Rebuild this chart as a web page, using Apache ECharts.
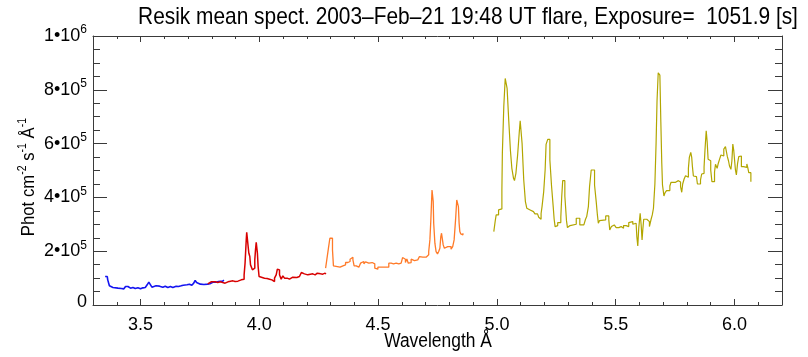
<!DOCTYPE html>
<html>
<head>
<meta charset="utf-8">
<script src="https://cdn.jsdelivr.net/npm/echarts@6/dist/echarts.min.js"></script>
<style>
html,body{margin:0;padding:0;background:#fff;}
#chart{width:808px;height:357px;}
</style>
</head>
<body>
<div id="chart"></div>
<script>
// ---- Data (wavelength in Å, flux in phot cm^-2 s^-1 Å^-1) ----
const blueWave = [3.351,3.360,3.362,3.369,3.376,3.384,3.405,3.412,3.419,3.430,3.437,3.447,3.458,3.468,3.478,3.489,3.500,3.510,3.520,3.528,3.535,3.542,3.548,3.556,3.565,3.572,3.580,3.587,3.594,3.604,3.615,3.626,3.636,3.650,3.660,3.671,3.680,3.688,3.696,3.706,3.716,3.724,3.730,3.736,3.744,3.752,3.760,3.767,3.774,3.783,3.792,3.800,3.808,3.818,3.828,3.836,3.846,3.851];
const blueFlux = [105900,108400,93500,71300,65100,62600,58900,61400,60100,65100,68800,62600,65100,61400,63800,60100,63800,65100,68800,75000,84900,75000,66300,71300,67500,70000,68800,66300,70000,65100,68800,65100,70000,68800,71300,73700,71300,75000,77500,73700,71300,81200,91100,83600,77500,73700,76200,72500,77500,78700,83600,86100,84900,87300,86100,88600,92300,91100];

const redWave = [3.783,3.790,3.797,3.804,3.814,3.825,3.836,3.846,3.856,3.868,3.879,3.889,3.898,3.910,3.918,3.924,3.931,3.936,3.940,3.945,3.947,3.953,3.956,3.960,3.963,3.967,3.971,3.977,3.981,3.984,3.987,3.992,3.995,3.999,4.004,4.022,4.033,4.043,4.053,4.057,4.064,4.071,4.076,4.081,4.085,4.092,4.099,4.106,4.117,4.127,4.134,4.141,4.148,4.158,4.169,4.177,4.183,4.190,4.204,4.215,4.225,4.235,4.244,4.249,4.258,4.267,4.277,4.280];
const redFlux = [78700,86100,88600,86100,83600,86100,83600,81200,86100,88600,89800,87300,88600,89800,93500,88600,96000,112100,155400,242000,270500,217300,192500,180200,149200,143000,130700,136900,167800,204900,233400,192500,143000,105900,99700,98500,96000,93500,91100,87300,99700,112100,133200,130700,112100,96000,108400,99700,96000,98500,103400,99700,102200,105900,108400,120800,115800,112100,114600,115800,112100,118300,120800,115800,114600,118300,114600,112100];

const orangeWave = [4.279,4.284,4.291,4.297,4.308,4.312,4.319,4.340,4.352,4.363,4.373,4.382,4.388,4.394,4.399,4.408,4.419,4.426,4.433,4.440,4.447,4.454,4.461,4.468,4.475,4.481,4.486,4.492,4.499,4.509,4.517,4.527,4.534,4.545,4.555,4.565,4.576,4.587,4.597,4.603,4.608,4.615,4.621,4.627,4.632,4.639,4.646,4.653,4.660,4.667,4.674,4.681,4.688,4.695,4.702,4.709,4.713,4.718,4.722,4.725,4.727,4.732,4.734,4.739,4.744,4.750,4.755,4.760,4.764,4.767,4.771,4.774,4.779,4.786,4.793,4.800,4.807,4.814,4.820,4.826,4.831,4.835,4.838,4.841,4.844,4.848,4.852,4.857];
const orangeFlux = [136900,167800,211100,248200,204900,145500,140600,145500,149200,157900,161600,170300,177700,167800,145500,140600,143000,155400,161600,152900,160400,155400,148000,157900,161600,152900,136900,133100,140600,145500,140600,145500,140600,155400,152900,155400,152900,155400,161600,176400,170300,157900,171500,155400,157900,170300,165300,172700,167800,174000,180200,177700,170300,177700,185100,186400,198700,242000,316300,384300,427600,384300,303900,229700,198700,190100,198700,211100,254400,266800,260600,223500,211100,217300,211100,217300,207400,217300,242000,316300,390500,394200,365800,303900,272900,264300,260600,266800];

const oliveWave = [4.987,4.993,4.997,5.007,5.015,5.021,5.023,5.029,5.035,5.043,5.050,5.057,5.063,5.070,5.074,5.080,5.087,5.094,5.098,5.106,5.113,5.120,5.126,5.131,5.140,5.154,5.160,5.171,5.176,5.182,5.186,5.190,5.197,5.203,5.207,5.214,5.223,5.230,5.237,5.241,5.245,5.252,5.256,5.269,5.273,5.277,5.286,5.293,5.297,5.303,5.308,5.334,5.349,5.366,5.373,5.378,5.385,5.390,5.397,5.411,5.418,5.423,5.427,5.432,5.437,5.458,5.471,5.475,5.482,5.488,5.494,5.502,5.513,5.523,5.533,5.544,5.555,5.558,5.572,5.579,5.586,5.589,5.593,5.597,5.603,5.607,5.611,5.614,5.618,5.631,5.639,5.642,5.649,5.654,5.659,5.665,5.670,5.674,5.679,5.686,5.690,5.694,5.697,5.703,5.708,5.714,5.728,5.733,5.752,5.759,5.764,5.773,5.778,5.782,5.788,5.794,5.802,5.806,5.810,5.816,5.820,5.823,5.827,5.834,5.840,5.844,5.857,5.862,5.868,5.872,5.876,5.881,5.885,5.889,5.895,5.900,5.905,5.916,5.920,5.927,5.931,5.937,5.943,5.949,5.955,5.962,5.966,5.970,5.975,5.979,5.985,5.989,5.993,5.997,6.004,6.008,6.013,6.018,6.025,6.029,6.038,6.046,6.052,6.056,6.060,6.069];
const oliveFlux = [272900,312600,334800,353400,357100,425200,563700,736900,842100,805000,683800,573600,508000,470900,462300,489500,555100,640500,685000,600900,464800,384300,359600,353400,347200,344700,338600,334800,326200,318800,340000,365800,421500,501900,597100,615700,539000,442500,365800,318800,291500,295200,306400,326200,405400,462300,405400,312600,287800,295200,300200,322500,297700,303900,318800,328600,365800,440000,501900,446200,384300,334800,303900,313800,316300,331100,316300,279200,291500,297700,291500,287800,291500,285300,295200,291500,306400,310100,300200,303900,300200,254400,219800,285300,341000,300200,242000,279200,318800,312600,310100,291500,318800,334800,359600,449900,600900,759200,863200,854500,681300,526600,446200,405400,417700,425200,442500,456100,458600,462300,457300,440000,419000,449900,468500,480800,474700,508000,548900,567500,548900,514200,479600,477100,470900,449900,464800,487000,489500,514200,578600,647900,607000,541500,536500,501900,458600,494500,522900,508000,524100,541500,557600,553800,579800,588500,569900,551400,535300,516700,504300,535300,598400,573600,501900,483300,526600,551400,553800,514200,516700,511800,524100,510500,492000,458600];

// ---- Axis ticks and labels ----
const xTickValues = [3.5, 4.0, 4.5, 5.0, 5.5, 6.0];
const xTickLabels = ['3.5', '4.0', '4.5', '5.0', '5.5', '6.0'];
const yTickValues = [0, 200000, 400000, 600000, 800000, 1000000];
const yTickLabels = ['{z|0}', '{b|2•10}{s|5}', '{b|4•10}{s|5}', '{b|6•10}{s|5}', '{b|8•10}{s|5}', '{b|1•10}{s|6}'];

const titleText = 'Resik mean spect. 2003–Feb–21 19:48 UT flare, Exposure=  1051.9 [s]';
const xName = 'Wavelength Å';

const FONT = "'Liberation Sans', Arial, Helvetica, sans-serif";
const AXC = '#3a3a3a';

function pairs(w, f) { return w.map((x, i) => [x, f[i]]); }

const chart = echarts.init(document.getElementById('chart'), null, {renderer: 'canvas'});

const xBase = {
  type: 'value', min: 3.3, max: 6.2, splitLine: {show: false}
};

const option = {
  animation: false,
  backgroundColor: '#ffffff',
  grid: {left: 93, right: 26, top: 36, bottom: 52, containLabel: false},
  xAxis: [
    Object.assign({}, xBase, {
      position: 'bottom',
      axisLine: {show: true, onZero: false, lineStyle: {color: AXC, width: 1}},
      axisTick: {show: true, inside: true, length: 6, customValues: xTickValues, lineStyle: {color: AXC}},
      axisLabel: {show: true, customValues: xTickValues, margin: 11, fontSize: 18, color: '#000', fontFamily: FONT,
        formatter: function (v) { const i = xTickValues.findIndex(t => Math.abs(t - v) < 1e-9); return i >= 0 ? xTickLabels[i] : ''; }}
    }),
    Object.assign({}, xBase, {
      position: 'bottom', interval: 0.1,
      axisLine: {show: false, onZero: false},
      axisTick: {show: true, inside: true, length: 3, lineStyle: {color: AXC}},
      axisLabel: {show: false}
    }),
    Object.assign({}, xBase, {
      position: 'top',
      axisLine: {show: true, onZero: false, lineStyle: {color: AXC, width: 1}},
      axisTick: {show: true, inside: true, length: 6, customValues: xTickValues, lineStyle: {color: AXC}},
      axisLabel: {show: false, customValues: xTickValues}
    }),
    Object.assign({}, xBase, {
      position: 'top', interval: 0.1,
      axisLine: {show: false, onZero: false},
      axisTick: {show: true, inside: true, length: 3, lineStyle: {color: AXC}},
      axisLabel: {show: false}
    })
  ],
  yAxis: [
    {
      type: 'value', min: 0, max: 1000000, interval: 200000, position: 'left',
      splitLine: {show: false},
      axisLine: {show: true, onZero: false, lineStyle: {color: AXC, width: 1}},
      axisTick: {show: true, inside: true, length: 14, lineStyle: {color: AXC}},
      minorTick: {show: true, splitNumber: 4, length: 7, lineStyle: {color: AXC}},
      axisLabel: {
        show: true, margin: 6, color: '#000', fontFamily: FONT,
        formatter: function (v) { const i = yTickValues.indexOf(v); return i >= 0 ? yTickLabels[i] : ''; },
        rich: {
          b: {fontSize: 18, fontFamily: FONT, color: '#000'},
          z: {fontSize: 18, fontFamily: FONT, color: '#000', padding: [0, 0, 6, 0]},
          s: {fontSize: 12, fontFamily: FONT, color: '#000', padding: [0, 0, 12, 0]}
        }
      }
    },
    {
      type: 'value', min: 0, max: 1000000, interval: 200000, position: 'right',
      splitLine: {show: false},
      axisLine: {show: true, onZero: false, lineStyle: {color: AXC, width: 1}},
      axisTick: {show: true, inside: true, length: 14, lineStyle: {color: AXC}},
      minorTick: {show: true, splitNumber: 4, length: 7, lineStyle: {color: AXC}},
      axisLabel: {show: false}
    }
  ],
  series: [
    {type: 'line', name: 'ch1', xAxisIndex: 0, yAxisIndex: 0, step: 'end', showSymbol: false, symbol: 'none',
      data: pairs(blueWave, blueFlux), lineStyle: {color: '#1414f0', width: 1.6}},
    {type: 'line', name: 'ch2', xAxisIndex: 0, yAxisIndex: 0, step: 'end', showSymbol: false, symbol: 'none',
      data: pairs(redWave, redFlux), lineStyle: {color: '#d80000', width: 1.5}},
    {type: 'line', name: 'ch3', xAxisIndex: 0, yAxisIndex: 0, step: 'end', showSymbol: false, symbol: 'none',
      data: pairs(orangeWave, orangeFlux), lineStyle: {color: '#ff7a28', width: 1.3}},
    {type: 'line', name: 'ch4', xAxisIndex: 0, yAxisIndex: 0, step: 'end', showSymbol: false, symbol: 'none',
      data: pairs(oliveWave, oliveFlux), lineStyle: {color: '#b2a600', width: 1.2}}
  ],
  graphic: [
    {type: 'text', x: 468, y: 17, scaleX: 0.87,
      style: {text: titleText, font: '24px ' + FONT, fill: '#000', align: 'center', verticalAlign: 'middle'}},
    {type: 'text', x: 438, y: 341, scaleX: 0.87,
      style: {text: xName, font: '20px ' + FONT, fill: '#000', align: 'center', verticalAlign: 'middle'}},
    {type: 'text', x: 29, y: 177, rotation: Math.PI / 2, scaleX: 0.88,
      style: {
        text: '{a|Phot cm}{s|-2}{a| s}{s|-1}{a| Å}{s|-1}',
        align: 'center', verticalAlign: 'middle',
        rich: {
          a: {fontSize: 19, fontFamily: FONT, fill: '#000'},
          s: {fontSize: 12, fontFamily: FONT, fill: '#000', padding: [0, 0, 12, 0]}
        }
      }}
  ]
};

chart.setOption(option);
</script>
</body>
</html>
